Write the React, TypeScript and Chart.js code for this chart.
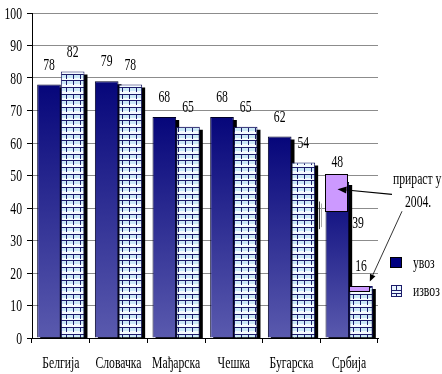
import React, { useEffect, useRef } from 'react';
import { Chart, registerables } from 'chart.js';

Chart.register(...registerables);

const categories = ['Белгија', 'Словачка', 'Мађарска', 'Чешка', 'Бугарска', 'Србија'];
const seriesNames = ['увоз', 'извоз'];
const importValues = [78, 79, 68, 68, 62, 48];
const exportValues = [82, 78, 65, 65, 54, 16];
const yTickValues = [0, 10, 20, 30, 40, 50, 60, 70, 80, 90, 100];
const serbiaImportGrowth = [39, 50.5];
const serbiaExportGrowth = [14.5, 16];
const annotationLines = ['прираст у', '2004.'];

const FONT = '16px "Liberation Serif", "Times New Roman", serif';
const SX = 0.73;

function txt(ctx: CanvasRenderingContext2D, s: string, x: number, y: number, align: CanvasTextAlign) {
  ctx.save();
  ctx.font = FONT;
  ctx.fillStyle = '#000';
  ctx.textBaseline = 'alphabetic';
  ctx.textAlign = align;
  ctx.translate(x, y);
  ctx.scale(SX, 1);
  ctx.fillText(s, 0, 0);
  ctx.restore();
}

function arrow(ctx: CanvasRenderingContext2D, x1: number, y1: number, x2: number, y2: number, lw: number, head: number, hw: number) {
  const a = Math.atan2(y2 - y1, x2 - x1);
  const bx = x2 - Math.cos(a) * head;
  const by = y2 - Math.sin(a) * head;
  ctx.save();
  ctx.strokeStyle = '#000';
  ctx.fillStyle = '#000';
  ctx.lineWidth = lw;
  ctx.beginPath();
  ctx.moveTo(x1, y1);
  ctx.lineTo(bx, by);
  ctx.stroke();
  ctx.beginPath();
  ctx.moveTo(x2, y2);
  ctx.lineTo(bx + Math.sin(a) * hw, by - Math.cos(a) * hw);
  ctx.lineTo(bx - Math.sin(a) * hw, by + Math.cos(a) * hw);
  ctx.closePath();
  ctx.fill();
  ctx.restore();
}

function makePattern(): CanvasPattern | string {
  const c = document.createElement('canvas');
  c.width = 7;
  c.height = 20;
  const g = c.getContext('2d');
  if (!g) return '#E8F6FF';
  g.fillStyle = '#F4FBFF';
  g.fillRect(0, 0, 7, 20);
  [0, 7, 14].forEach((y0) => {
    g.fillStyle = '#CCEAF8';
    g.fillRect(0, y0 + 1, 7, 3);
    g.fillStyle = '#1C1C6A';
    g.fillRect(0, y0, 7, 1);
    g.fillRect(3, y0 + 1, 1, 4);
  });
  const p = g.createPattern(c, 'repeat');
  return p || '#E8F6FF';
}

const shadowPlugin = {
  id: 'barShadow',
  beforeDatasetsDraw(chart: any) {
    const { ctx, chartArea } = chart;
    ctx.save();
    ctx.beginPath();
    ctx.rect(chartArea.left, chartArea.top, chartArea.right - chartArea.left, chartArea.bottom - chartArea.top);
    ctx.clip();
    ctx.fillStyle = '#000';
    [0, 1].forEach((di) => {
      const meta = chart.getDatasetMeta(di);
      meta.data.forEach((el: any) => {
        const { x, y, base, width } = el.getProps(['x', 'y', 'base', 'width'], true);
        ctx.fillRect(x - width / 2 + 3, y + 3, width, base - y);
      });
    });
    ctx.restore();
  },
};

const annotationPlugin = {
  id: 'annotations',
  afterDatasetsDraw(chart: any) {
    const { ctx, chartArea, scales } = chart;
    const ys = scales.y;
    const xs = scales.x;
    const m0 = chart.getDatasetMeta(0).data;
    const m1 = chart.getDatasetMeta(1).data;
    const si = categories.length - 1;

    // growth boxes (Serbia)
    const e0 = m0[si].getProps(['x', 'y', 'base', 'width'], true);
    const e1 = m1[si].getProps(['x', 'y', 'base', 'width'], true);
    ctx.save();
    ctx.fillStyle = '#CC99FF';
    ctx.strokeStyle = '#000';
    ctx.lineWidth = 1;
    const b1t = Math.round(ys.getPixelForValue(serbiaImportGrowth[1])) + 0.5;
    const b1b = Math.round(ys.getPixelForValue(serbiaImportGrowth[0])) + 0.5;
    const b1l = Math.round(e0.x - e0.width / 2 - 1) + 0.5;
    const b1r = Math.round(e0.x + e0.width / 2 - 2) + 0.5;
    ctx.fillRect(b1l, b1t, b1r - b1l, b1b - b1t);
    ctx.strokeRect(b1l, b1t, b1r - b1l, b1b - b1t);
    const b2t = Math.round(ys.getPixelForValue(serbiaExportGrowth[1])) + 0.5;
    const b2b = Math.round(ys.getPixelForValue(serbiaExportGrowth[0])) + 0.5;
    const b2l = Math.round(e1.x - e1.width / 2) + 0.5;
    const b2r = Math.round(e1.x + e1.width / 2 - 4) + 0.5;
    ctx.fillRect(b2l, b2t, b2r - b2l, b2b - b2t);
    ctx.strokeRect(b2l, b2t, b2r - b2l, b2b - b2t);
    ctx.restore();

    // small bracket mark near Бугарска
    ctx.save();
    ctx.lineWidth = 1;
    ctx.strokeStyle = '#444';
    const bx = Math.round(xs.getPixelForValue(4) + 27) + 0.5;
    const by1 = ys.getPixelForValue(42);
    const by2 = ys.getPixelForValue(33.5);
    ctx.beginPath();
    ctx.moveTo(bx, by1);
    ctx.lineTo(bx, by2);
    ctx.stroke();
    ctx.strokeStyle = '#aaa';
    ctx.beginPath();
    ctx.moveTo(bx + 2, by1 + 2);
    ctx.lineTo(bx + 2, by2 - 2);
    ctx.stroke();
    ctx.restore();

    // value labels
    [m0, m1].forEach((els: any[], di) => {
      const vals = di === 0 ? importValues : exportValues;
      els.forEach((el: any, i: number) => {
        const { x, y } = el.getProps(['x', 'y'], true);
        txt(ctx, String(vals[i]), x, y - 15, 'center');
      });
    });
    txt(ctx, String(serbiaImportGrowth[0]), e0.x + e0.width / 2 + 3, ys.getPixelForValue(serbiaImportGrowth[0]) + 17, 'left');

    // y tick labels
    yTickValues.forEach((v) => {
      txt(ctx, String(v), chartArea.left - 10, ys.getPixelForValue(v) + 5.5, 'right');
    });
    // x labels
    categories.forEach((c, i) => {
      txt(ctx, c, xs.getPixelForValue(i), chartArea.bottom + 29.5, 'center');
    });

    // legend
    const lx = chartArea.right + 12;
    ctx.save();
    ctx.lineWidth = 1;
    ctx.fillStyle = '#000080';
    ctx.strokeStyle = '#000';
    ctx.fillRect(lx + 0.5, 257.5, 11, 10);
    ctx.strokeRect(lx + 0.5, 257.5, 11, 10);
    ctx.fillStyle = '#EAF6FF';
    ctx.fillRect(lx + 1.5, 285.5, 10, 11);
    ctx.strokeStyle = '#1C1C6A';
    ctx.strokeRect(lx + 1.5, 285.5, 10, 11);
    ctx.beginPath();
    ctx.moveTo(lx + 1.5, 290.5);
    ctx.lineTo(lx + 11.5, 290.5);
    ctx.moveTo(lx + 6.5, 285.5);
    ctx.lineTo(lx + 6.5, 290.5);
    ctx.moveTo(lx + 6.5, 293.5);
    ctx.lineTo(lx + 6.5, 296.5);
    ctx.moveTo(lx + 1.5, 293.5);
    ctx.lineTo(lx + 11.5, 293.5);
    ctx.stroke();
    ctx.restore();
    txt(ctx, seriesNames[0], lx + 23, 268, 'left');
    txt(ctx, seriesNames[1], lx + 23, 296, 'left');

    // annotation text and arrows
    txt(ctx, annotationLines[0], chartArea.right + 15, 184, 'left');
    txt(ctx, annotationLines[1], chartArea.right + 27, 206.5, 'left');
    arrow(ctx, chartArea.right + 14, ys.getPixelForValue(44.2), (b1l + b1r) / 2 + 1, ys.getPixelForValue(45.8), 1.2, 9, 3.5);
    arrow(ctx, chartArea.right + 24, ys.getPixelForValue(39), e1.x + e1.width / 2 - 3, ys.getPixelForValue(17.4), 0.8, 7, 3);
  },
};

export default function App() {
  const ref = useRef<HTMLCanvasElement | null>(null);
  useEffect(() => {
    document.body.style.margin = '0';
    const canvas = ref.current;
    if (!canvas) return;
    const pattern = makePattern();
    const chart = new Chart(canvas, {
      type: 'bar',
      data: {
        labels: categories,
        datasets: [
          {
            label: seriesNames[0],
            data: importValues,
            backgroundColor: (c: any) => {
              const ch = c.chart;
              const ys = ch.scales && ch.scales.y;
              if (!ys || c.dataIndex === undefined) return '#000080';
              const top = ys.getPixelForValue(importValues[c.dataIndex]);
              const bot = ys.getPixelForValue(0);
              if (!isFinite(top) || !isFinite(bot) || top === bot) return '#000080';
              const g = ch.ctx.createLinearGradient(0, top, 0, bot);
              g.addColorStop(0, '#06067A');
              g.addColorStop(1, '#5A5AAE');
              return g;
            },
            borderColor: '#000028',
            borderWidth: 1,
          },
          {
            label: seriesNames[1],
            data: exportValues,
            backgroundColor: pattern as any,
            borderColor: '#141460',
            borderWidth: 1,
          },
        ],
      },
      options: {
        responsive: false,
        animation: false,
        layout: { padding: { top: 13, right: 64, left: 0, bottom: 0 } },
        datasets: { bar: { barPercentage: 1, categoryPercentage: 0.82 } },
        plugins: {
          legend: { display: false },
          tooltip: { enabled: false },
          title: { display: false },
        },
        scales: {
          x: {
            offset: true,
            grid: { offset: true, drawOnChartArea: false, drawTicks: true, tickLength: 5, tickColor: '#000', color: '#000' },
            border: { color: '#000', width: 1 },
            ticks: { display: false },
            afterFit: (s: any) => {
              s.height = 36;
            },
          },
          y: {
            min: 0,
            max: 100,
            ticks: { display: false, stepSize: 10 },
            grid: { color: '#8C8C8C', tickLength: 5, tickColor: '#000' },
            border: { color: '#000', width: 1 },
            afterFit: (s: any) => {
              s.width = 32;
            },
          },
        },
      },
      plugins: [shadowPlugin, annotationPlugin],
    });
    return () => chart.destroy();
  }, []);
  return (
    <div style={{ width: 442, height: 374 }}>
      <canvas ref={ref} width={442} height={374} style={{ display: 'block', width: 442, height: 374 }} />
    </div>
  );
}
